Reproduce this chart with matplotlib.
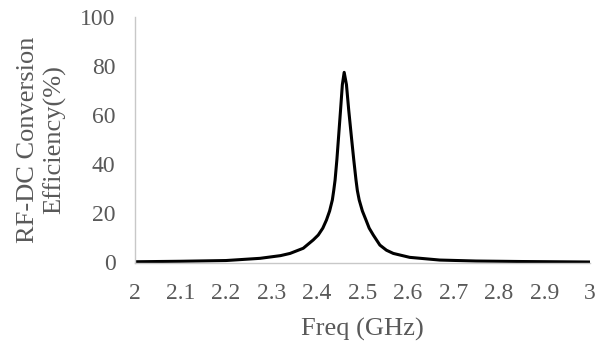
import matplotlib
matplotlib.use("Agg")
import matplotlib.pyplot as plt

plt.rcParams.update({
    'font.family': 'serif',
    'font.serif': ['Liberation Serif', 'DejaVu Serif'],
})

# frequency (GHz) and RF-DC conversion efficiency (%)
freq = [2.00, 2.10, 2.20, 2.275, 2.32, 2.341, 2.37, 2.392, 2.403, 2.413,
        2.421, 2.428, 2.434, 2.437, 2.440, 2.444, 2.448, 2.452, 2.456,
        2.460, 2.465, 2.470, 2.476, 2.481, 2.486, 2.489, 2.493, 2.500,
        2.508, 2.515, 2.524, 2.5385, 2.553, 2.568, 2.604, 2.670, 2.75,
        2.85, 3.00]
eff = [0.3, 0.5, 0.8, 1.7, 2.8, 3.7, 5.8, 9.2, 11.2, 14.0,
       17.3, 21.0, 25.5, 29.3, 33.6, 42.0, 52.0, 62.1, 72.5,
       77.5, 72.5, 62.1, 51.0, 42.0, 33.6, 29.3, 25.5, 21.0,
       17.3, 14.0, 11.2, 7.1, 5.0, 3.7, 2.1, 1.0, 0.6,
       0.4, 0.2]

xticks = [2, 2.1, 2.2, 2.3, 2.4, 2.5, 2.6, 2.7, 2.8, 2.9, 3]
xticklabels = ['2', '2.1', '2.2', '2.3', '2.4', '2.5', '2.6', '2.7', '2.8', '2.9', '3']
yticks = [0, 20, 40, 60, 80, 100]

text_color = '#595959'

fig = plt.figure(figsize=(6.08, 3.5), dpi=100)
ax = fig.add_axes([0.222, 0.25, 0.748, 0.701])

ax.plot(freq, eff, color='black', linewidth=2.2, solid_capstyle='round', solid_joinstyle='round')

ax.set_xlim(2, 3)
ax.set_ylim(0, 100)
ax.set_xticks(xticks)
ax.set_xticklabels(xticklabels)
ax.set_yticks(yticks)

for s in ['top', 'right']:
    ax.spines[s].set_visible(False)
for s in ['left', 'bottom']:
    ax.spines[s].set_color('#c8c8c8')
    ax.spines[s].set_linewidth(1.0)

ax.tick_params(axis='both', length=0, labelsize=17, colors=text_color)
ax.tick_params(axis='x', pad=15)
ax.tick_params(axis='y', pad=14)

ax.set_xlabel('Freq (GHz)', fontsize=19, color=text_color, labelpad=10)
ax.set_ylabel('RF-DC Conversion\nEfficiency(%)', fontsize=19, color=text_color,
              labelpad=10, linespacing=1.2)

fig.savefig('out.png', dpi=100)
